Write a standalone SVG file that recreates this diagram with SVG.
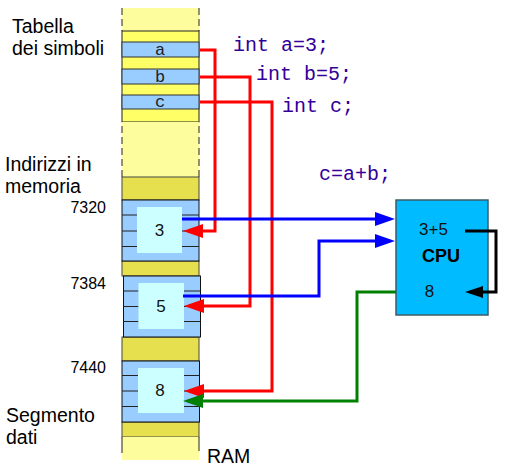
<svg xmlns="http://www.w3.org/2000/svg" width="511" height="468" viewBox="0 0 511 468">
<style>
  .lbl{font-family:"Liberation Sans",Arial,sans-serif;fill:#000}
  .big{font-size:19.5px}
  .addr{font-size:16px;text-anchor:end}
  .code{font-family:"Liberation Mono","Courier New",monospace;font-size:20px;fill:#330099}
  .cell{font-family:"Liberation Mono","Courier New",monospace;font-size:17px;fill:#222;text-anchor:middle}
  .val{font-family:"Liberation Sans",Arial,sans-serif;font-size:17px;fill:#111;text-anchor:middle}
  .pale{fill:#fdfd9d}
  .yel{fill:#ffff66;stroke:#222;stroke-width:1}
  .dark{fill:#e6e04f;stroke:#444;stroke-width:1}
  .blk{fill:#99ccff;stroke:#111;stroke-width:1}
  .sym{fill:#99ccff;stroke:#333;stroke-width:1}
  .inner{fill:#ccffff}
  .rule{stroke:#222;stroke-width:1}
  .dash{stroke:#222;stroke-width:1;stroke-dasharray:7,4}
  .red{fill:none;stroke:#ff0000;stroke-width:3}
  .blue{fill:none;stroke:#0000ff;stroke-width:3}
  .green{fill:none;stroke:#008000;stroke-width:3}
  .black{fill:none;stroke:#000;stroke-width:3}
</style>
<defs>
  <marker id="ar" viewBox="0 0 20 14" refX="15" refY="7" markerWidth="20" markerHeight="14" markerUnits="userSpaceOnUse" orient="auto"><path d="M0,0 L20,7 L0,14 z" fill="#ff0000"/></marker>
  <marker id="ab" viewBox="0 0 20 14" refX="15" refY="7" markerWidth="20" markerHeight="14" markerUnits="userSpaceOnUse" orient="auto"><path d="M0,0 L20,7 L0,14 z" fill="#0000ff"/></marker>
  <marker id="ag" viewBox="0 0 20 14" refX="15" refY="7" markerWidth="20" markerHeight="14" markerUnits="userSpaceOnUse" orient="auto"><path d="M0,0 L20,7 L0,14 z" fill="#008000"/></marker>
  <marker id="ak" viewBox="0 0 18 12" refX="13" refY="6" markerWidth="18" markerHeight="12" markerUnits="userSpaceOnUse" orient="auto"><path d="M0,0 L18,6 L0,12 z" fill="#000"/></marker>
</defs>

<g id="ram">
  <rect class="pale" x="122" y="8" width="77" height="23"/>
  <line class="dash" x1="122" y1="8" x2="122" y2="31"/>
  <line class="dash" x1="199" y1="8" x2="199" y2="31"/>
  <rect class="yel" x="122" y="31" width="77" height="91"/>
  <rect class="pale" x="122" y="122" width="77" height="55"/>
  <line class="dash" x1="122" y1="126" x2="122" y2="177"/>
  <line class="dash" x1="199" y1="126" x2="199" y2="177"/>
  <rect class="dark" x="122" y="177" width="77" height="23"/>
  <rect class="dark" x="122" y="261" width="77" height="15"/>
  <rect class="dark" x="122" y="337" width="77" height="24"/>
  <rect class="dark" x="122" y="422" width="77" height="15"/>
  <rect class="pale" x="122" y="437" width="77" height="23"/>
  <line class="rule" x1="122" y1="437" x2="122" y2="453"/>
  <line class="rule" x1="199" y1="437" x2="199" y2="451"/>
  <text class="lbl big" x="207" y="463">RAM</text>
</g>

<g id="sym-a">
  <rect class="sym" x="122" y="42" width="77" height="15"/>
  <text class="cell" x="160" y="55">a</text>
</g>
<g id="sym-b">
  <rect class="sym" x="122" y="69" width="77" height="15"/>
  <text class="cell" x="160" y="82">b</text>
</g>
<g id="sym-c">
  <rect class="sym" x="122" y="95" width="77" height="14"/>
  <text class="cell" x="160" y="107">c</text>
</g>

<g id="mem-7320">
  <rect class="blk" x="122" y="200" width="77" height="61"/>
  <line class="rule" x1="122" y1="215" x2="137" y2="215"/><line class="rule" x1="182" y1="215" x2="199" y2="215"/>
  <line class="rule" x1="122" y1="231" x2="137" y2="231"/><line class="rule" x1="182" y1="231" x2="199" y2="231"/>
  <line class="rule" x1="122" y1="246.5" x2="137" y2="246.5"/><line class="rule" x1="182" y1="246.5" x2="199" y2="246.5"/>
  <rect class="inner" x="137" y="207" width="45" height="46"/>
  <text class="val" x="159.5" y="236">3</text>
</g>
<g id="mem-7384">
  <rect class="blk" x="123.5" y="276" width="77" height="61"/>
  <line class="rule" x1="123.5" y1="291" x2="138.5" y2="291"/><line class="rule" x1="184" y1="291" x2="200.5" y2="291"/>
  <line class="rule" x1="123.5" y1="306.5" x2="138.5" y2="306.5"/><line class="rule" x1="184" y1="306.5" x2="200.5" y2="306.5"/>
  <line class="rule" x1="123.5" y1="321.5" x2="138.5" y2="321.5"/><line class="rule" x1="184" y1="321.5" x2="200.5" y2="321.5"/>
  <rect class="inner" x="138.5" y="283" width="45.5" height="46"/>
  <text class="val" x="161" y="312">5</text>
</g>
<g id="mem-7440">
  <rect class="blk" x="122" y="361" width="77.5" height="61"/>
  <line class="rule" x1="122" y1="375.5" x2="138" y2="375.5"/><line class="rule" x1="184" y1="375.5" x2="199.5" y2="375.5"/>
  <line class="rule" x1="122" y1="391" x2="138" y2="391"/><line class="rule" x1="184" y1="391" x2="199.5" y2="391"/>
  <line class="rule" x1="122" y1="406.5" x2="138" y2="406.5"/><line class="rule" x1="184" y1="406.5" x2="199.5" y2="406.5"/>
  <rect class="inner" x="138" y="368" width="46" height="45"/>
  <text class="val" x="160" y="396">8</text>
</g>

<g id="labels">
  <text class="lbl big" x="12" y="33">Tabella</text>
  <text class="lbl big" x="12" y="55">dei simboli</text>
  <text class="lbl big" x="5" y="171">Indirizzi in</text>
  <text class="lbl big" x="5" y="193">memoria</text>
  <text class="lbl addr" x="106" y="213">7320</text>
  <text class="lbl addr" x="106" y="289">7384</text>
  <text class="lbl addr" x="106" y="373">7440</text>
  <text class="lbl big" x="6" y="422">Segmento</text>
  <text class="lbl big" x="6" y="444">dati</text>
</g>

<g id="code">
  <text class="code" x="233" y="51">int a=3;</text>
  <text class="code" x="256" y="80">int b=5;</text>
  <text class="code" x="282" y="112">int c;</text>
  <text class="code" x="319" y="180">c=a+b;</text>
</g>

<g id="cpu">
  <rect x="396" y="200" width="92" height="115" fill="#00bbff" stroke="#3d5c66" stroke-width="1.5"/>
  <text class="val" x="433.5" y="235">3+5</text>
  <text x="441" y="262" font-family="Liberation Sans,Arial,sans-serif" font-size="18" font-weight="bold" text-anchor="middle" fill="#000">CPU</text>
  <text class="val" x="429.5" y="297">8</text>
</g>

<g id="connectors">
  <path class="red" d="M200,50 H215 V231 H188" marker-end="url(#ar)"/>
  <path class="red" d="M200,77 H250 V306 H189" marker-end="url(#ar)"/>
  <path class="red" d="M200,102 H272 V391 H189" marker-end="url(#ar)"/>
  <path class="blue" d="M182,219 H390" marker-end="url(#ab)"/>
  <path class="blue" d="M183,296 H319 V241 H390" marker-end="url(#ab)"/>
  <path class="green" d="M396,292 H357 V401 H188" marker-end="url(#ag)"/>
  <path class="black" d="M465,231 H496 V292 H470" marker-end="url(#ak)"/>
</g>
</svg>
